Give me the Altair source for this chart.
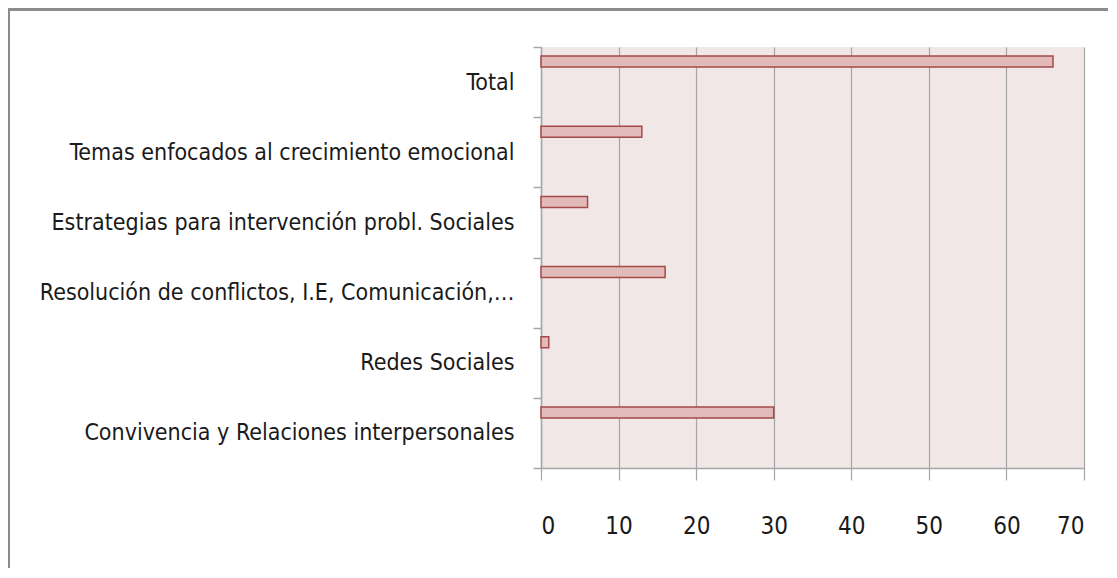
import altair as alt
import pandas as pd

categories = [
    "Total",
    "Temas enfocados al crecimiento emocional",
    "Estrategias para intervención probl. Sociales",
    "Resolución de conflictos, I.E, Comunicación,…",
    "Redes Sociales",
    "Convivencia y Relaciones  interpersonales",
]
values = [66, 13, 6, 16, 1, 30]
x_ticks = [0, 10, 20, 30, 40, 50, 60, 70]

df = pd.DataFrame({"cat": categories, "val": values})

FONT = "DejaVu Sans Condensed, Roboto, sans-serif"

bars = alt.Chart(df).mark_bar(
    size=11, yOffset=-20.5, fill="#E2BABA", stroke="#A34A4A", strokeWidth=1.5
).encode(
    x=alt.X("val:Q", scale=alt.Scale(domain=[0, 70], nice=False),
            axis=alt.Axis(values=x_ticks, title=None, grid=True, gridColor="#A6A6A6",
                          gridWidth=1.2, domainColor="#A6A6A6", domainWidth=1.5,
                          tickColor="#A6A6A6", tickSize=12, tickWidth=1.2,
                          labelFont=FONT, labelFontSize=24, labelColor="#1a1a1a",
                          labelPadding=34)),
    y=alt.Y("cat:N", sort=categories,
            scale=alt.Scale(paddingInner=0, paddingOuter=0),
            axis=alt.Axis(title=None, tickBand="extent", domainColor="#A6A6A6",
                          domainWidth=1.5, tickColor="#A6A6A6", tickSize=8, tickWidth=1.5,
                          labelFont=FONT, labelFontSize=23, labelColor="#1a1a1a",
                          labelPadding=19, labelLimit=600)),
)

frame = alt.Chart(pd.DataFrame({"a": [0]})).mark_rule(color="#8C8C8C", strokeWidth=3).encode(
    x=alt.value(-532.5), y=alt.value(-39.5), y2=alt.value(560)
)
frame_top = alt.Chart(pd.DataFrame({"a": [0]})).mark_rule(color="#8C8C8C", strokeWidth=3).encode(
    x=alt.value(-534), x2=alt.value(600), y=alt.value(-37.5)
)

chart = alt.layer(bars, frame, frame_top).properties(
    width=543, height=421,
    background="white",
    autosize=alt.AutoSizeParams(type="none"),
    padding={"left": 533, "top": 39, "right": 24, "bottom": 100},
).configure_view(fill="#F2E7E7", stroke=None)

chart.save("out.html", embed_options={"renderer": "svg", "actions": False})
